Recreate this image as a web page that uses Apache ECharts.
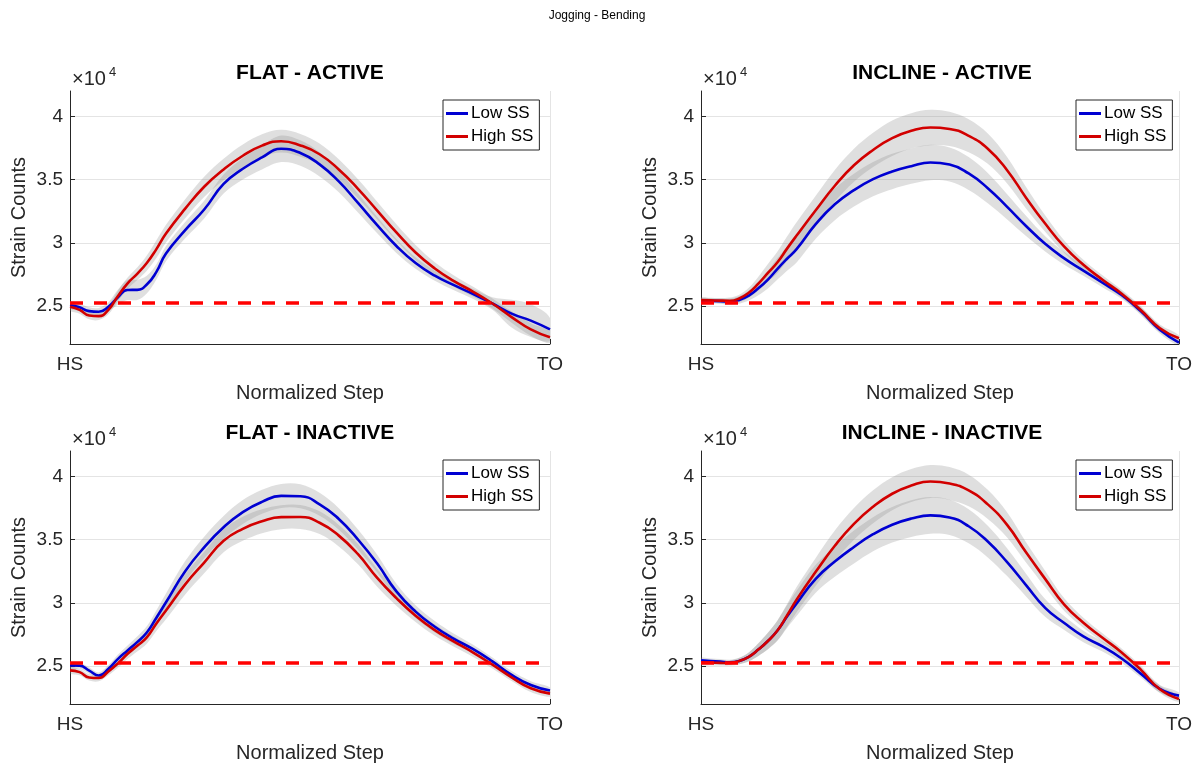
<!DOCTYPE html>
<html>
<head>
<meta charset="utf-8">
<script src="https://cdn.jsdelivr.net/npm/echarts@6/dist/echarts.min.js"></script>
<style>
html,body{margin:0;padding:0;background:#fff;}
#c{width:1195px;height:764px;}
</style>
</head>
<body>
<div id="c"></div>
<script>
// ---------------- DATA ----------------
const SUPTITLE = 'Jogging - Bending';
const PANEL_TITLES = ['FLAT - ACTIVE', 'INCLINE - ACTIVE', 'FLAT - INACTIVE', 'INCLINE - INACTIVE'];
const SERIES_NAMES = ['Low SS', 'High SS'];
const X_LABELS = ['HS', 'TO'];
const Y_TICKS = [25000, 30000, 35000, 40000];
const THRESHOLD = 25250;
// normalized step (% of stance)
const X = [0,2,4,6,8,10,12,14,16,18,20,24,28,32,36,40,44,48,52,56,60,64,68,72,76,80,84,88,92,96,100];

// FLAT - ACTIVE
const FA_LOW     = [25080,24900,24600,24550,24950,25700,26270,26280,26700,27700,29150,31000,32650,34650,35850,36750,37430,37100,36200,34850,33150,31400,29750,28400,27400,26650,25950,25200,24400,23850,23160];
const FA_LOW_SD  = [300,300,300,300,350,600,800,800,700,600,600,650,700,750,850,950,1050,1000,950,850,750,650,550,450,400,400,400,500,1100,1300,900];
const FA_HIGH    = [24950,24700,24250,24200,24700,25800,26800,27550,28400,29500,30730,32700,34450,35800,36880,37680,38030,37700,37000,35800,34270,32550,30820,29230,27970,26970,26130,25200,24130,23150,22530];
const FA_HIGH_SD = [300,300,300,300,350,400,450,500,600,700,700,750,800,850,900,900,900,900,850,800,750,700,650,600,500,450,400,400,450,500,450];

// INCLINE - ACTIVE
const IA_LOW     = [25420,25410,25390,25350,25480,25830,26400,27090,27940,28740,29500,31470,33040,34160,35030,35640,36060,36350,36190,35480,34320,32860,31330,29920,28770,27800,26840,25870,24600,23130,22110];
const IA_LOW_SD  = [200,200,200,250,300,400,550,700,850,950,1050,1150,1250,1300,1350,1400,1400,1400,1350,1300,1200,1000,800,600,500,400,350,300,300,300,250];
const IA_HIGH    = [25470,25450,25430,25420,25600,26050,26770,27620,28460,29540,30570,32570,34510,36130,37340,38270,38850,39110,39000,38460,37440,35760,33570,31520,29690,28260,27080,25980,24690,23250,22450];
const IA_HIGH_SD = [200,200,200,250,300,400,550,700,850,950,1050,1150,1250,1300,1350,1400,1400,1400,1350,1300,1200,1050,850,650,500,400,350,300,300,300,250];

// FLAT - INACTIVE
const FI_LOW     = [25050,25030,24640,24250,24780,25570,26230,26890,27650,28820,30040,32500,34400,35970,37170,37980,38450,38420,37790,36630,35000,33100,30900,29300,28110,27150,26330,25370,24300,23500,23060];
const FI_LOW_SD  = [250,250,250,250,300,350,400,450,500,600,700,800,850,900,950,950,950,950,900,850,800,700,600,500,450,400,350,300,300,300,250];
const FI_HIGH    = [24660,24520,24100,24050,24570,25210,25970,26600,27270,28370,29390,31460,33200,34900,35850,36450,36770,36780,36330,35310,33840,31970,30370,28980,27840,26930,26070,25110,24110,23240,22820];
const FI_HIGH_SD = [250,250,250,250,300,350,400,450,500,600,700,800,850,900,950,950,950,950,900,850,800,700,600,500,450,400,350,300,300,300,250];

// INCLINE - INACTIVE
const II_LOW     = [25450,25400,25350,25300,25400,25730,26300,26980,27810,28910,29950,31900,33260,34410,35420,36170,36660,36910,36750,36050,34840,33230,31400,29600,28400,27340,26550,25600,24400,23200,22660];
const II_LOW_SD  = [200,200,200,200,250,350,500,650,800,900,1000,1100,1200,1300,1350,1400,1450,1450,1400,1350,1250,1100,900,700,550,450,400,350,300,300,250];
const II_HIGH    = [25290,25270,25250,25240,25400,25730,26300,26980,27810,29000,30250,32450,34510,36240,37590,38620,39270,39590,39430,38880,37780,36180,33990,31890,29850,28420,27240,26080,24720,23160,22400];
const II_HIGH_SD = [200,200,200,200,250,350,500,650,800,900,1000,1100,1200,1250,1300,1300,1300,1300,1300,1250,1150,1000,800,650,500,400,350,300,300,300,250];

// ---------------- LAYOUT / STYLE ----------------
const FONT = '"Liberation Sans", Arial, Helvetica, sans-serif';
const AX = '#262626';
const GRIDC = '#e4e4e4';
const BLUE = '#0000d2';
const RED = '#d20000';
const BAND = 'rgba(140,140,140,0.28)';

const panels = [
  {title: PANEL_TITLES[0], low: FA_LOW, lowSd: FA_LOW_SD, high: FA_HIGH, highSd: FA_HIGH_SD, left: 70,  top: 91,  width: 480},
  {title: PANEL_TITLES[1], low: IA_LOW, lowSd: IA_LOW_SD, high: IA_HIGH, highSd: IA_HIGH_SD, left: 701, top: 91,  width: 482},
  {title: PANEL_TITLES[2], low: FI_LOW, lowSd: FI_LOW_SD, high: FI_HIGH, highSd: FI_HIGH_SD, left: 70,  top: 451, width: 480},
  {title: PANEL_TITLES[3], low: II_LOW, lowSd: II_LOW_SD, high: II_HIGH, highSd: II_HIGH_SD, left: 701, top: 451, width: 482}
];
const H = 253;

const pairs = arr => X.map((x, k) => [x, arr[k]]);

function bandSeries(i, m, sd) {
  return {
    type: 'custom', xAxisIndex: i, yAxisIndex: i, silent: true, z: 1, clip: true, animation: false,
    data: X.map((x, k) => [x, m[k] - sd[k], m[k] + sd[k]]),
    encode: {x: 0, y: [1, 2]},
    renderItem: (params, api) => {
      if (params.dataIndex !== 0) return null;
      const up = X.map((x, k) => api.coord([x, m[k] + sd[k]]));
      const lo = X.map((x, k) => api.coord([x, m[k] - sd[k]])).reverse();
      return {type: 'polygon', shape: {points: up.concat(lo), smooth: 0.35}, style: {fill: BAND, stroke: null}};
    }
  };
}

const grid = [], xAxis = [], yAxis = [], series = [], legend = [], graphic = [];

graphic.push({type: 'text', x: 597, y: 16, silent: true,
  style: {text: SUPTITLE, font: '12px ' + FONT, fill: '#000', align: 'center', verticalAlign: 'middle'}});

panels.forEach((p, i) => {
  grid.push({left: p.left, top: p.top, width: p.width, height: H, containLabel: false});
  xAxis.push({
    type: 'value', gridIndex: i, min: 0, max: 100, interval: 100,
    axisLine: {show: true, lineStyle: {color: AX, width: 1}},
    axisTick: {show: true, inside: true, length: 5, lineStyle: {color: AX}},
    axisLabel: {formatter: v => v === 0 ? X_LABELS[0] : (v === 100 ? X_LABELS[1] : ''), fontSize: 19, color: AX, margin: 11, fontFamily: FONT},
    splitLine: {show: true, lineStyle: {color: GRIDC, width: 1}},
    name: 'Normalized Step', nameLocation: 'middle', nameGap: 39,
    nameTextStyle: {fontSize: 20, color: AX, fontFamily: FONT}
  });
  yAxis.push({
    type: 'value', gridIndex: i, min: 22000, max: 42000,
    axisLine: {show: true, lineStyle: {color: AX, width: 1}},
    axisTick: {show: true, inside: true, length: 5, customValues: Y_TICKS, lineStyle: {color: AX}},
    axisLabel: {customValues: Y_TICKS, formatter: v => String(v / 10000), fontSize: 19, color: AX, margin: 7, fontFamily: FONT},
    splitLine: {show: true, lineStyle: {color: GRIDC, width: 1}},
    name: 'Strain Counts', nameLocation: 'middle', nameGap: 41,
    nameTextStyle: {fontSize: 20, color: AX, fontFamily: FONT}
  });

  const common = {xAxisIndex: i, yAxisIndex: i, symbol: 'none', smooth: 0.5, silent: true, animation: false, emphasis: {disabled: true}};
  // bands
  series.push(bandSeries(i, p.low, p.lowSd));
  series.push(bandSeries(i, p.high, p.highSd));
  // means
  series.push(Object.assign({}, common, {type: 'line', name: SERIES_NAMES[0], data: pairs(p.low), color: BLUE, lineStyle: {color: BLUE, width: 2.6}, z: 3}));
  series.push(Object.assign({}, common, {type: 'line', name: SERIES_NAMES[1], data: pairs(p.high), color: RED, lineStyle: {color: RED, width: 2.6}, z: 3}));
  // threshold
  series.push(Object.assign({}, common, {type: 'line', smooth: false, data: [[0, THRESHOLD], [100, THRESHOLD]], lineStyle: {color: '#ff0000', width: 3.5, type: [13, 11]}, z: 4}));

  legend.push({
    data: SERIES_NAMES, orient: 'vertical',
    left: p.left + p.width - 107, top: p.top + 9,
    backgroundColor: '#fff', borderColor: AX, borderWidth: 1, borderRadius: 0,
    padding: [4, 6, 4, 3], itemGap: 4, itemWidth: 22, itemHeight: 3, icon: 'rect',
    selectedMode: false,
    textStyle: {fontSize: 17, color: '#000', fontFamily: FONT, lineHeight: 19, padding: [0, 0, 0, -2]}
  });

  // panel title and exponent
  graphic.push({type: 'text', x: p.left + p.width / 2, y: p.top - 18, silent: true,
    style: {text: p.title, font: 'bold 21px ' + FONT, fill: '#000', align: 'center', verticalAlign: 'middle'}});
  graphic.push({type: 'text', x: p.left + 2, y: p.top - 12, silent: true,
    style: {text: '\u00d710', font: '20px ' + FONT, fill: AX, align: 'left', verticalAlign: 'middle'}});
  graphic.push({type: 'text', x: p.left + 39, y: p.top - 19, silent: true,
    style: {text: '4', font: '13px ' + FONT, fill: AX, align: 'left', verticalAlign: 'middle'}});
});

const chart = echarts.init(document.getElementById('c'), null, {renderer: 'canvas'});
chart.setOption({
  animation: false,
  backgroundColor: '#fff',
  textStyle: {fontFamily: FONT},
  grid, xAxis, yAxis, series, legend, graphic
});
</script>
</body>
</html>
